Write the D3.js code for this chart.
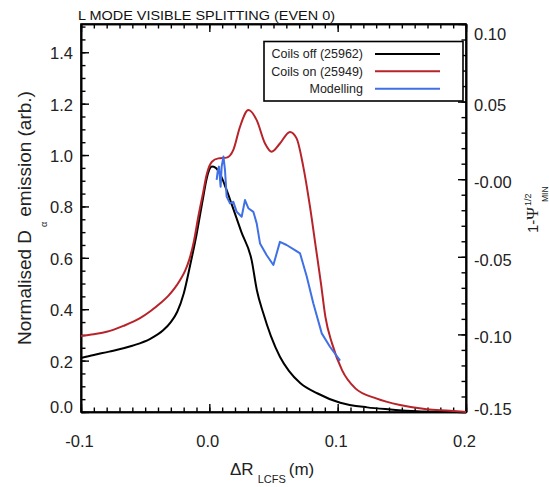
<!DOCTYPE html>
<html>
<head>
<meta charset="utf-8">
<script src="https://cdn.jsdelivr.net/npm/d3@7"></script>
<style>
  html, body { margin: 0; padding: 0; background: #fff; }
  svg { display: block; font-family: "Liberation Sans", Arial, Helvetica, sans-serif; }
</style>
</head>
<body>
<svg id="chart" width="549" height="487"></svg>
<script>
// ---------------- data ----------------
const chartTitle = "L MODE VISIBLE SPLITTING (EVEN 0)";
const seriesNames = ["Coils off (25962)", "Coils on (25949)", "Modelling"];
const seriesColors = ["#000000", "#b8232a", "#4070e6"];

// Coils off (25962): [ΔR_LCFS (m), normalised emission]
const coilsOffX = [-0.100,-0.090,-0.078,-0.060,-0.046,-0.036,-0.030,-0.025,-0.020,-0.015,-0.010,-0.005,-0.002,0.002,0.005,0.009,0.013,0.018,0.025,0.033,0.037,0.042,0.048,0.055,0.062,0.071,0.084,0.102,0.123,0.141,0.162,0.180,0.200];
const coilsOffY = [0.210,0.222,0.235,0.258,0.285,0.318,0.350,0.390,0.460,0.570,0.690,0.830,0.910,0.955,0.950,0.920,0.870,0.800,0.700,0.590,0.475,0.385,0.295,0.215,0.160,0.112,0.073,0.036,0.018,0.010,0.003,0.001,0.000];

// Coils on (25949)
const coilsOnX = [-0.100,-0.090,-0.080,-0.067,-0.054,-0.046,-0.038,-0.032,-0.027,-0.023,-0.019,-0.0155,-0.012,-0.0086,-0.005,-0.002,0.002,0.007,0.0135,0.0187,0.0239,0.0304,0.0369,0.0434,0.0486,0.055,0.0628,0.068,0.0732,0.0784,0.083,0.087,0.0904,0.0956,0.1034,0.1138,0.130,0.1486,0.1694,0.1876,0.200];
const coilsOnY = [0.296,0.303,0.312,0.335,0.365,0.392,0.424,0.452,0.482,0.512,0.548,0.595,0.665,0.760,0.850,0.925,0.974,0.987,0.990,1.020,1.110,1.175,1.136,1.045,1.013,1.045,1.090,1.065,0.955,0.800,0.640,0.500,0.371,0.267,0.163,0.092,0.053,0.027,0.0105,0.005,0.000];

// Modelling
const modelX = [0.0057,0.0065,0.0075,0.0088,0.0096,0.0110,0.0122,0.0135,0.0161,0.0187,0.0213,0.0252,0.0278,0.0304,0.0343,0.0369,0.0395,0.0447,0.0499,0.0550,0.0602,0.0667,0.0707,0.0759,0.0810,0.0876,0.0940,0.1019];
const modelY = [0.903,0.935,0.955,0.877,0.955,0.994,0.942,0.838,0.812,0.818,0.779,0.760,0.825,0.793,0.779,0.734,0.656,0.610,0.572,0.662,0.650,0.630,0.617,0.527,0.423,0.306,0.254,0.200];

// axes
const xTickValues = [-0.1, 0.0, 0.1, 0.2];
const xTickLabels = ["-0.1", "0.0", "0.1", "0.2"];
const yTickValues = [0.0, 0.2, 0.4, 0.6, 0.8, 1.0, 1.2, 1.4];
const yTickLabels = ["0.0", "0.2", "0.4", "0.6", "0.8", "1.0", "1.2", "1.4"];
const y2TickValues = [-0.15, -0.10, -0.05, 0.00, 0.05, 0.10];
const y2TickLabels = ["-0.15", "-0.10", "-0.05", "-0.00", "0.05", "0.10"];

// ---------------- chart ----------------
const svg = d3.select("#chart");
const L = 81, R = 466, T = 24, B = 412;

const x = d3.scaleLinear().domain([-0.1, 0.2]).range([L, R]);
const y = d3.scaleLinear().domain([0, 1.51]).range([B, T]);
const y2 = d3.scaleLinear().domain([-0.15, 0.10]).range([B, T]);

const axisW = 1.6;
const major = 8, minor = 4.5;

function styleAxis(g) {
  g.selectAll("path.domain").attr("stroke", "#000").attr("stroke-width", axisW);
  g.selectAll(".tick line").attr("stroke", "#000").attr("stroke-width", 1.4);
  g.selectAll(".tick text").remove();
}

const xMinor = d3.range(-0.1, 0.2001, 0.01).map(v => +v.toFixed(3));
const yMinor = d3.range(0, 1.5001, 0.05).map(v => +v.toFixed(3));
const y2Minor = d3.range(-0.15, 0.1001, 0.01).map(v => +v.toFixed(3));

// bottom
svg.append("g").attr("transform", `translate(0,${B})`)
  .call(d3.axisBottom(x).tickValues(xMinor).tickSize(-minor).tickSizeOuter(0).tickFormat(""))
  .call(styleAxis);
svg.append("g").attr("transform", `translate(0,${B})`)
  .call(d3.axisBottom(x).tickValues(xTickValues).tickSize(-major).tickSizeOuter(0).tickFormat(""))
  .call(styleAxis);
// top
svg.append("g").attr("transform", `translate(0,${T})`)
  .call(d3.axisTop(x).tickValues(xMinor).tickSize(-minor).tickSizeOuter(0).tickFormat(""))
  .call(styleAxis);
svg.append("g").attr("transform", `translate(0,${T})`)
  .call(d3.axisTop(x).tickValues(xTickValues).tickSize(-major).tickSizeOuter(0).tickFormat(""))
  .call(styleAxis);
// left
svg.append("g").attr("transform", `translate(${L},0)`)
  .call(d3.axisLeft(y).tickValues(yMinor).tickSize(-minor).tickSizeOuter(0).tickFormat(""))
  .call(styleAxis);
svg.append("g").attr("transform", `translate(${L},0)`)
  .call(d3.axisLeft(y).tickValues(yTickValues).tickSize(-major).tickSizeOuter(0).tickFormat(""))
  .call(styleAxis);
// right
svg.append("g").attr("transform", `translate(${R},0)`)
  .call(d3.axisRight(y2).tickValues(y2Minor).tickSize(-minor).tickSizeOuter(0).tickFormat(""))
  .call(styleAxis);
svg.append("g").attr("transform", `translate(${R},0)`)
  .call(d3.axisRight(y2).tickValues(y2TickValues).tickSize(-major).tickSizeOuter(0).tickFormat(""))
  .call(styleAxis);

// frame
svg.append("rect").attr("x", L).attr("y", T).attr("width", R - L).attr("height", B - T)
  .attr("fill", "none").attr("stroke", "#000").attr("stroke-width", axisW);

// tick labels
const tickFont = 16.5, tickColor = "#222";
svg.append("g").selectAll("text").data(xTickValues).join("text")
  .attr("x", d => x(d) - 1.5).attr("y", 447)
  .attr("text-anchor", "middle").attr("font-size", tickFont).attr("fill", tickColor)
  .text((d, i) => xTickLabels[i]);

svg.append("g").selectAll("text").data(yTickValues).join("text")
  .attr("x", 73)
  .attr("y", d => (d === 0 ? y(d) - 5 : y(d) + 1) + 6)
  .attr("text-anchor", "end").attr("font-size", tickFont).attr("fill", tickColor)
  .text((d, i) => yTickLabels[i]);

svg.append("g").selectAll("text").data(y2TickValues).join("text")
  .attr("x", 474)
  .attr("y", d => (d === 0.10 ? y2(d) + 9.5 : d === -0.15 ? y2(d) - 3 : y2(d) + 3) + 6)
  .attr("text-anchor", "start").attr("font-size", tickFont).attr("fill", tickColor)
  .text((d, i) => y2TickLabels[i]);

// title
svg.append("text").attr("x", 78).attr("y", 20)
  .attr("font-size", 13).attr("fill", "#111")
  .attr("textLength", 257).attr("lengthAdjust", "spacingAndGlyphs")
  .text(chartTitle);

// x axis title
const xt = svg.append("text").attr("x", 230).attr("y", 475).attr("fill", "#222").attr("font-size", 17);
xt.append("tspan").text("ΔR");
xt.append("tspan").attr("font-size", 11).attr("dx", 4).attr("dy", 8).text("LCFS");
xt.append("tspan").attr("dx", 3).attr("dy", -8).text("(m)");

// left y title
const yt = svg.append("g").attr("transform", "translate(31,0) rotate(-90)")
  .append("text").attr("x", -345).attr("y", 0).attr("fill", "#222").attr("font-size", 19);
yt.append("tspan").text("Normalised D");
yt.append("tspan").attr("font-size", 9).attr("dx", 3).attr("dy", 16).text("α");
yt.append("tspan").attr("dx", 5).attr("dy", -16).text("emission (arb.)");

// right y title
const rg = svg.append("g").attr("transform", "translate(538,0) rotate(-90)");
const rt = rg.append("text").attr("x", -233).attr("y", 0).attr("fill", "#222").attr("font-size", 15);
rt.append("tspan").text("1-");
rt.append("tspan").attr("font-family", "'Liberation Serif', 'DejaVu Serif', serif").attr("font-size", 17).text("Ψ");
rt.append("tspan").attr("font-size", 9).attr("dy", -7).attr("dx", 1).text("1/2");
rg.append("text").attr("x", -202).attr("y", 9.5).attr("fill", "#222").attr("font-size", 8.5).text("MIN");

// lines
const line = d3.line().x(d => x(d[0])).y(d => y(d[1]));
const smooth = d3.line().x(d => x(d[0])).y(d => y(d[1])).curve(d3.curveMonotoneX);

const offData = coilsOffX.map((v, i) => [v, coilsOffY[i]]);
const onData = coilsOnX.map((v, i) => [v, coilsOnY[i]]);
const modData = modelX.map((v, i) => [v, modelY[i]]);

svg.append("path").datum(offData).attr("d", smooth)
  .attr("fill", "none").attr("stroke", seriesColors[0]).attr("stroke-width", 2);
svg.append("path").datum(onData).attr("d", smooth)
  .attr("fill", "none").attr("stroke", seriesColors[1]).attr("stroke-width", 2);
svg.append("path").datum(modData).attr("d", line)
  .attr("fill", "none").attr("stroke", seriesColors[2]).attr("stroke-width", 2).attr("stroke-linejoin", "round");

// legend
const lg = svg.append("g");
lg.append("rect").attr("x", 264).attr("y", 41.5).attr("width", 199).attr("height", 59.5)
  .attr("fill", "#fff").attr("stroke", "#000").attr("stroke-width", 1.6);
const rowY = [54, 71.3, 88.7];
seriesNames.forEach((name, i) => {
  lg.append("text").attr("x", 363).attr("y", rowY[i] + 4.3)
    .attr("text-anchor", "end").attr("font-size", 12.5).attr("fill", "#222").text(name);
  lg.append("line").attr("x1", 375).attr("x2", 440).attr("y1", rowY[i]).attr("y2", rowY[i])
    .attr("stroke", seriesColors[i]).attr("stroke-width", 2);
});
</script>
</body>
</html>
